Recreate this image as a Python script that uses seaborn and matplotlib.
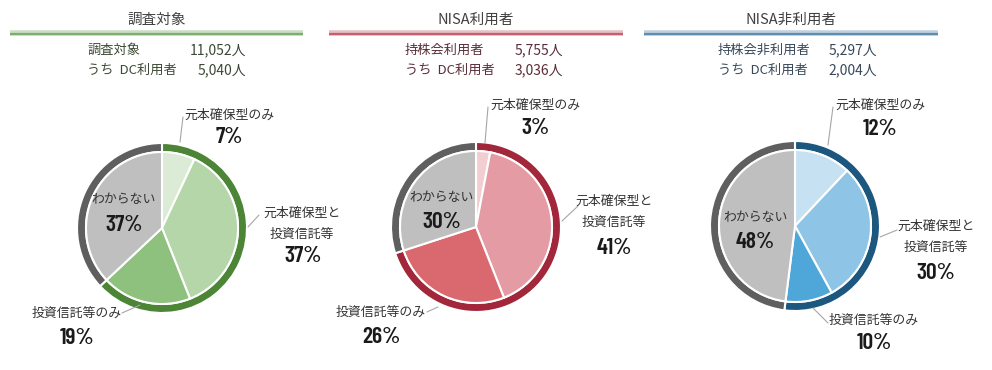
import numpy as np
import pandas as pd
import seaborn as sns
import matplotlib.pyplot as plt
from matplotlib import font_manager

sns.set_theme(style="white")
plt.rcParams['font.family'] = ['Noto Sans CJK JP', 'DejaVu Sans']

# data
categories = ["元本確保型のみ", "元本確保型と\n投資信託等", "投資信託等のみ", "わからない"]
titles = ["調査対象", "NISA利用者", "NISA非利用者"]
row1_labels = ["調査対象", "持株会利用者", "持株会非利用者"]
row1_counts = ["11,052人", "5,755人", "5,297人"]
row2_labels = ["うち  DC利用者", "うち  DC利用者", "うち  DC利用者"]
row2_counts = ["5,040人", "3,036人", "2,004人"]
share_all = [7, 37, 19, 37]
share_nisa = [3, 41, 26, 30]
share_non = [12, 30, 10, 48]
shares = [share_all, share_nisa, share_non]

# colours per panel
slice_colors = [
    ["#dcebd5", "#b4d6a8", "#8ec07e", "#bfbfbf"],
    ["#f2cdd2", "#e59ba3", "#d9696f", "#bfbfbf"],
    ["#c6e2f2", "#8ec4e6", "#4ea6d9", "#bfbfbf"],
]
ring_colors = [["#4b8535", "#5f5f5f"], ["#a2273b", "#5f5f5f"], ["#1c5780", "#5f5f5f"]]
line_colors = ["#7fae6c", "#c5616f", "#5f8db0"]
text_colors = ["#3c4a35", "#5b2d38", "#38495a"]

# condensed face for the percentages, if there is one
installed = {f.name for f in font_manager.fontManager.ttflist}
pct_family = "Barlow Condensed" if "Barlow Condensed" in installed else "DejaVu Sans"

# layout (pixels)
W, H = 992, 370
centers = [(162, 228), (476, 227), (795, 226)]
R_ring, R_pie = 85, 77
header_x = [(10, 303), (329, 623), (644, 938)]
sub_x = [(87, 246), (405, 563), (718, 877)]
# label anchors: name (x, y), pct (x, y)
label_pos = [
    [((229, 115), (229, 137)), ((302, 224), (303, 256)),
     ((77, 313), (77, 338)), ((124, 200), (124, 225))],
    [((535, 105), (535, 128)), ((614, 212), (614, 248)),
     ((381, 312), (381, 337)), ((442, 198), (442, 222))],
    [((880, 105), (880, 129)), ((936, 237), (936, 273)),
     ((874, 320), (874, 343)), ((755, 218), (755, 242))],
]
leaders = [
    [[(183, 117), (180, 142)], [(259, 215), (248, 227)], [(122, 313), (140, 305)]],
    [[(488, 107), (485, 143)], [(578, 206), (562, 221)], [(427, 312), (438, 307)]],
    [[(833, 107), (828, 145)], [(897, 230), (880, 237)], [(828, 323), (813, 308)]],
]

fig = plt.figure(figsize=(W / 100, H / 100), dpi=100)
ax = fig.add_axes([0, 0, 1, 1])


def fy(y):
    return H - y


for i in range(3):
    cx, cy = centers[i]
    vals = shares[i]
    known = sum(vals[:3])
    # outer ring
    ax.pie([known, vals[3]], colors=ring_colors[i], radius=R_ring,
           center=(cx, fy(cy)), startangle=90, counterclock=False,
           wedgeprops=dict(width=R_ring - R_pie + 1, edgecolor="white", linewidth=1.5))
    # inner pie
    ax.pie(vals, colors=slice_colors[i], radius=R_pie - 1,
           center=(cx, fy(cy)), startangle=90, counterclock=False,
           wedgeprops=dict(edgecolor="white", linewidth=1.5))

    # header
    x0, x1 = header_x[i]
    ax.text((x0 + x1) / 2, fy(20), titles[i], ha="center", va="center",
            fontsize=10.5, color="#404040")
    ax.plot([x0, x1], [fy(33), fy(33)], color=line_colors[i], lw=4, alpha=0.4,
            solid_capstyle="butt")
    ax.plot([x0, x1], [fy(33.5), fy(33.5)], color=line_colors[i], lw=1.6,
            solid_capstyle="butt")
    sx0, sx1 = sub_x[i]
    ax.text(sx0, fy(50), row1_labels[i], ha="left", va="center", fontsize=9.5,
            color=text_colors[i])
    ax.text(sx1, fy(50), row1_counts[i], ha="right", va="center", fontsize=10,
            color=text_colors[i])
    ax.text(sx0, fy(70), row2_labels[i], ha="left", va="center", fontsize=9.5,
            color=text_colors[i])
    ax.text(sx1, fy(70), row2_counts[i], ha="right", va="center", fontsize=10,
            color=text_colors[i])

    # labels
    for j, cat in enumerate(categories):
        (nx, ny), (px, py) = label_pos[i][j]
        ax.text(nx, fy(ny), cat, ha="center", va="center", fontsize=9.3,
                color="#333333", linespacing=1.8)
        ax.text(px, fy(py), f"{vals[j]}%", ha="center", va="center", fontsize=17,
                fontweight="semibold", family=[pct_family], color="#1a1a1a")
    for seg in leaders[i]:
        ax.plot([p[0] for p in seg], [fy(p[1]) for p in seg], color="#a6a6a6", lw=0.8)

ax.set_xlim(0, W)
ax.set_ylim(0, H)
ax.set_aspect("auto")
ax.axis("off")

fig.savefig("out.png", dpi=100, facecolor="white")
